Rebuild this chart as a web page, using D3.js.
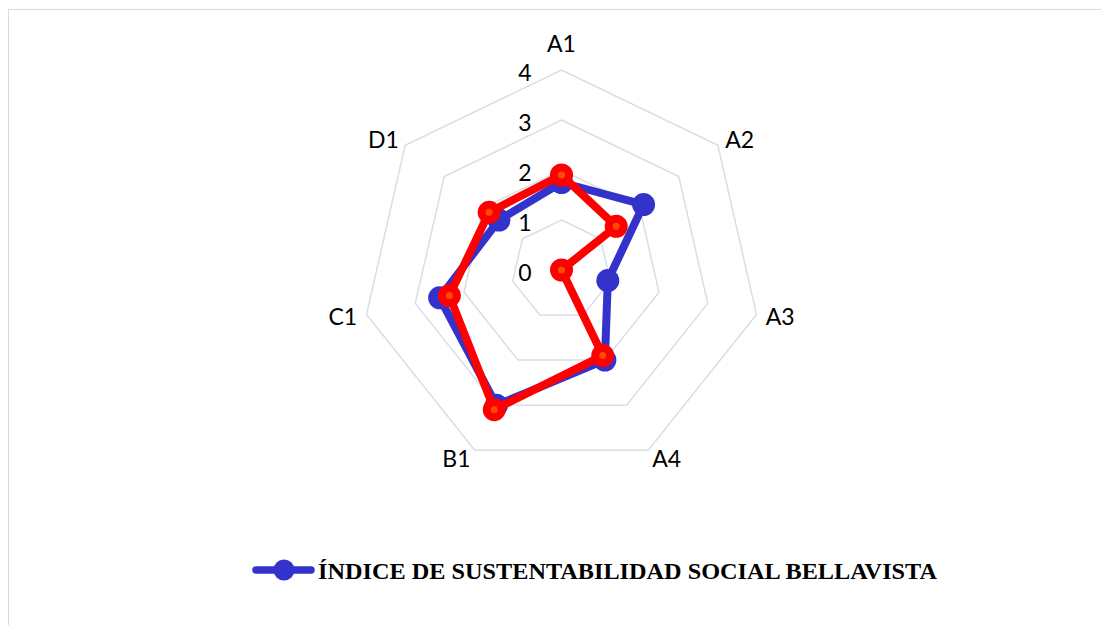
<!DOCTYPE html>
<html>
<head>
<meta charset="utf-8">
<script src="https://cdn.jsdelivr.net/npm/d3@7"></script>
<style>
  body { margin: 0; background: #fff; }
  .axis-label, .tick-label { font-family: Lato, "Open Sans", sans-serif; font-size: 23px; fill: #000; }
  .legend-text { font-family: "Liberation Serif", "Times New Roman", serif; font-weight: bold; font-size: 24px; fill: #000; }
</style>
</head>
<body>
<div id="chart"></div>
<script>
var categories = ["A1", "A2", "A3", "A4", "B1", "C1", "D1"];
var blueValues = [1.75, 2.1, 0.95, 2.0, 3.0, 2.5, 1.6];
var redValues = [1.9, 1.4, 0, 1.9, 3.1, 2.3, 1.85];
var levels = [0, 1, 2, 3, 4];
var legendLabel = "ÍNDICE DE SUSTENTABILIDAD SOCIAL BELLAVISTA";

var width = 1101, height = 625,
    cx = 561.5, cy = 270, radius = 200;

var svg = d3.select("#chart").append("svg")
    .attr("width", width)
    .attr("height", height);

// outer frame (only top/left visible in the crop)
svg.append("rect")
    .attr("x", 8.5).attr("y", 9.5)
    .attr("width", 1100).attr("height", 700)
    .attr("fill", "none")
    .attr("stroke", "#d9dbe0");

var r = d3.scaleLinear().domain([0, 4]).range([0, radius]);
var angle = d3.scaleBand().domain(categories).range([0, 2 * Math.PI]).align(0).paddingInner(0).paddingOuter(0);

function pt(cat, v) {
  var a = angle(cat);
  return [cx + r(v) * Math.sin(a), cy - r(v) * Math.cos(a)];
}

var g = svg.append("g");

// grid heptagons
levels.slice(1).forEach(function(l) {
  g.append("polygon")
      .attr("points", categories.map(function(c) { return pt(c, l).join(","); }).join(" "))
      .attr("fill", "none")
      .attr("stroke", "#d9dde4")
      .attr("stroke-width", 1.5);
});

// level labels
g.selectAll(".tick-label")
    .data(levels)
  .enter().append("text")
    .attr("class", "tick-label")
    .attr("x", cx - 36.5)
    .attr("y", function(d) { return cy - r(d) + 11; })
    .attr("text-anchor", "middle")
    .text(function(d) { return d; });

// axis labels, pushed out from the outer vertex
g.selectAll(".axis-label")
    .data(categories)
  .enter().append("text")
    .attr("class", "axis-label")
    .attr("x", function(d) {
      var s = Math.sin(angle(d)), p = pt(d, 4);
      if (Math.abs(s) < 0.1) return p[0];
      return p[0] + Math.sign(s) * (14 + 10 * Math.abs(s));
    })
    .attr("y", function(d) {
      var s = Math.sin(angle(d)), c = Math.cos(angle(d)), p = pt(d, 4);
      if (Math.abs(s) < 0.1) return p[1] - 18;
      return p[1] - 9 * c + 8.5;
    })
    .attr("text-anchor", "middle")
    .text(function(d) { return d; });

function drawSeries(values, color, inner) {
  var pts = categories.map(function(c, i) { return pt(c, values[i]); });
  g.append("path")
      .attr("d", d3.line().curve(d3.curveLinearClosed)(pts))
      .attr("fill", "none")
      .attr("stroke", color)
      .attr("stroke-width", 8)
      .attr("stroke-linejoin", "round");
  g.selectAll(null)
      .data(pts)
    .enter().append("circle")
      .attr("cx", function(d) { return d[0]; })
      .attr("cy", function(d) { return d[1]; })
      .attr("r", 11.5)
      .attr("fill", color);
  if (inner) {
    g.selectAll(null)
        .data(pts)
      .enter().append("circle")
        .attr("cx", function(d) { return d[0]; })
        .attr("cy", function(d) { return d[1]; })
        .attr("r", 3.5)
        .attr("fill", inner);
  }
}

drawSeries(blueValues, "#3333cc", null);
drawSeries(redValues, "#ff0000", "#ff4a00");

// legend
var legend = svg.append("g").attr("transform", "translate(256,570)");
legend.append("line")
    .attr("x1", 0).attr("x2", 55)
    .attr("stroke", "#3333cc")
    .attr("stroke-width", 7.5)
    .attr("stroke-linecap", "round");
legend.append("circle")
    .attr("cx", 28).attr("r", 10.5)
    .attr("fill", "#3333cc");
legend.append("text")
    .attr("class", "legend-text")
    .attr("x", 62).attr("y", 9)
    .attr("textLength", 619)
    .attr("lengthAdjust", "spacingAndGlyphs")
    .text(legendLabel);
</script>
</body>
</html>
